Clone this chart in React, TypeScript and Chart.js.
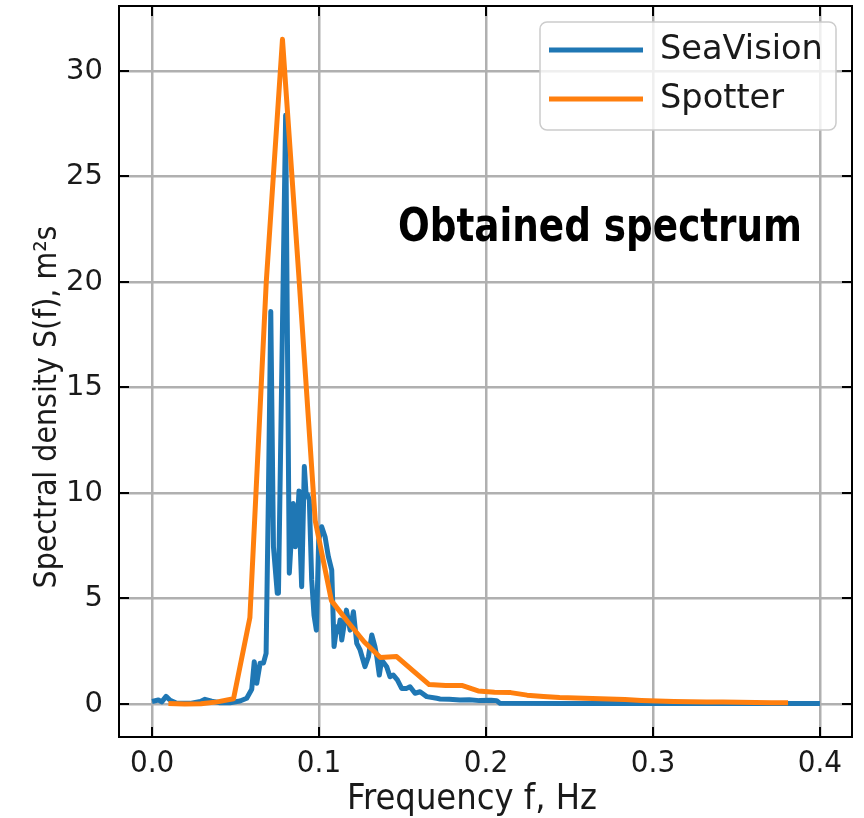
import React, { useEffect, useRef } from 'react';
import { Chart, registerables } from 'chart.js';

Chart.register(...registerables);

// ---- data ----
const X_TICKS = [0, 0.1, 0.2, 0.3, 0.4];
const Y_TICKS = [0, 5, 10, 15, 20, 25, 30];

const SEA_FREQ = [
  0.0, 0.0038, 0.0058, 0.0084, 0.0108, 0.0148, 0.0228, 0.029, 0.0317, 0.0357,
  0.0407, 0.0467, 0.0527, 0.0567, 0.0597, 0.0612, 0.0627, 0.0647, 0.0667, 0.0683,
  0.0697, 0.0711, 0.0727, 0.075, 0.0757, 0.08, 0.0822, 0.0846, 0.0858, 0.0866,
  0.088, 0.0888, 0.0896, 0.0912, 0.0922, 0.0932, 0.0942, 0.0956, 0.097, 0.0984,
  0.0998, 0.1016, 0.1036, 0.1056, 0.1076, 0.109, 0.1106, 0.1116, 0.1126, 0.1136,
  0.1164, 0.1186, 0.1206, 0.1226, 0.1246, 0.1275, 0.1296, 0.1316, 0.1335, 0.1346,
  0.1361, 0.1375, 0.1405, 0.1425, 0.1445, 0.1469, 0.1495, 0.1525, 0.1545, 0.1575,
  0.1605, 0.1645, 0.1705, 0.1725, 0.178, 0.1844, 0.19, 0.196, 0.203, 0.2064,
  0.2084, 0.25, 0.3, 0.35, 0.4,
];
const SEA_DENSITY = [
  0.12, 0.19, 0.1, 0.36, 0.18, 0.03, 0.03, 0.12, 0.22, 0.13,
  0.06, 0.06, 0.14, 0.27, 0.7, 2.0, 0.98, 1.93, 1.94, 2.4,
  10.0, 18.6, 7.45, 5.25, 5.25, 27.9, 6.2, 9.5, 7.45, 7.8,
  10.1, 7.4, 5.56, 11.25, 10.0, 9.9, 9.67, 5.88, 4.2, 3.5,
  7.77, 8.4, 7.93, 6.98, 6.35, 2.72, 3.66, 3.43, 3.98, 3.03,
  4.45, 3.5, 4.37, 2.87, 2.56, 1.77, 2.24, 3.27, 2.72, 2.24,
  1.37, 2.09, 1.77, 1.29, 1.37, 1.14, 0.74, 0.74, 0.82, 0.51,
  0.58, 0.35, 0.27, 0.24, 0.22, 0.19, 0.2, 0.16, 0.18, 0.16,
  0.03, 0.02, 0.02, 0.02, 0.02,
];

const SPOT_FREQ = [
  0.0098, 0.0195, 0.0293, 0.0391, 0.0488, 0.0586, 0.0684, 0.0781, 0.0879, 0.0977,
  0.1074, 0.1172, 0.127, 0.1367, 0.1465, 0.1562, 0.166, 0.1758, 0.1855, 0.1953,
  0.2051, 0.2148, 0.2246, 0.2344, 0.2441, 0.2539, 0.2637, 0.2734, 0.2832, 0.293,
  0.3027, 0.3125, 0.3223, 0.332, 0.3418, 0.3516, 0.3613, 0.3711, 0.3809,
];
const SPOT_DENSITY = [
  0.02, 0.0, 0.01, 0.1, 0.25, 4.1, 20.0, 31.5, 20.3, 8.7,
  4.9, 3.9, 2.95, 2.2, 2.25, 1.58, 0.92, 0.88, 0.88, 0.62,
  0.56, 0.54, 0.42, 0.36, 0.31, 0.28, 0.26, 0.24, 0.21, 0.17,
  0.14, 0.12, 0.11, 0.1, 0.09, 0.08, 0.07, 0.06, 0.06,
];

const SERIES_NAMES = ['SeaVision', 'Spotter'];
const SERIES_COLORS = ['#1f77b4', '#ff7f0e'];
const X_TITLE = 'Frequency f, Hz';
const Y_TITLE = 'Spectral density S(f), m²s';
const ANNOTATION = 'Obtained spectrum';

const measure = (ctx: CanvasRenderingContext2D, text: string, family: string, weight: string) => {
  ctx.font = `${weight} 100px ${family}`;
  return ctx.measureText(text).width;
};

export default function App() {
  const ref = useRef<HTMLCanvasElement>(null);

  useEffect(() => {
    if (!ref.current) return;

    const overlay = {
      id: 'overlay',
      afterDraw(chart: any) {
        const { ctx, chartArea } = chart;
        const { left, right, top, bottom } = chartArea;
        const xs = chart.scales.x;
        const ys = chart.scales.y;
        ctx.save();

        // legend box
        const lx = 540, ly = 22, lw = 296, lh = 108, r = 7;
        ctx.beginPath();
        ctx.moveTo(lx + r, ly);
        ctx.arcTo(lx + lw, ly, lx + lw, ly + lh, r);
        ctx.arcTo(lx + lw, ly + lh, lx, ly + lh, r);
        ctx.arcTo(lx, ly + lh, lx, ly, r);
        ctx.arcTo(lx, ly, lx + lw, ly, r);
        ctx.closePath();
        ctx.fillStyle = 'rgba(255,255,255,0.8)';
        ctx.fill();
        ctx.strokeStyle = '#cccccc';
        ctx.lineWidth = 1.5;
        ctx.stroke();

        const legFam = '"DejaVu Sans", sans-serif';
        const legSize = (100 * 163) / measure(ctx, SERIES_NAMES[0], legFam, 'normal');
        ctx.font = `normal ${legSize}px ${legFam}`;
        ctx.textBaseline = 'middle';
        ctx.textAlign = 'left';
        SERIES_NAMES.forEach((name, i) => {
          const yy = 50 + i * 49;
          ctx.strokeStyle = SERIES_COLORS[i];
          ctx.lineWidth = 5;
          ctx.lineCap = 'butt';
          ctx.beginPath();
          ctx.moveTo(549, yy);
          ctx.lineTo(643, yy);
          ctx.stroke();
          ctx.fillStyle = '#1a1a1a';
          ctx.fillText(name, 660, yy);
        });

        // annotation: tall condensed bold, squeezed to width
        const annFam = '"DejaVu Sans Condensed", "DejaVu Sans", sans-serif';
        const annSize = 46;
        const annW = (measure(ctx, ANNOTATION, annFam, 'bold') * annSize) / 100;
        ctx.save();
        ctx.translate(398, 241);
        ctx.scale(404 / annW, 1);
        ctx.font = `bold ${annSize}px ${annFam}`;
        ctx.fillStyle = '#000';
        ctx.textBaseline = 'alphabetic';
        ctx.textAlign = 'left';
        ctx.fillText(ANNOTATION, 0, 0);
        ctx.restore();

        // inward ticks
        ctx.strokeStyle = '#000';
        ctx.lineWidth = 2;
        ctx.lineCap = 'butt';
        ctx.beginPath();
        X_TICKS.forEach((v) => {
          const px = Math.round(xs.getPixelForValue(v));
          ctx.moveTo(px, bottom);
          ctx.lineTo(px, bottom - 10);
          ctx.moveTo(px, top);
          ctx.lineTo(px, top + 10);
        });
        Y_TICKS.forEach((v) => {
          const py = Math.round(ys.getPixelForValue(v));
          ctx.moveTo(left, py);
          ctx.lineTo(left + 10, py);
          ctx.moveTo(right, py);
          ctx.lineTo(right - 10, py);
        });
        ctx.stroke();

        // frame
        ctx.lineWidth = 2;
        ctx.strokeRect(left, top, right - left, bottom - top);

        // axis titles
        const titleFam = '"DejaVu Sans Condensed", "DejaVu Sans", sans-serif';
        ctx.fillStyle = '#1a1a1a';
        const xtSize = (100 * 250) / measure(ctx, X_TITLE, titleFam, 'normal');
        ctx.font = `normal ${xtSize}px ${titleFam}`;
        ctx.textAlign = 'center';
        ctx.textBaseline = 'alphabetic';
        ctx.fillText(X_TITLE, 472, 809);

        const ytSize = (100 * 363) / measure(ctx, Y_TITLE, titleFam, 'normal');
        ctx.font = `normal ${ytSize}px ${titleFam}`;
        ctx.translate(56, 407);
        ctx.rotate(-Math.PI / 2);
        ctx.fillText(Y_TITLE, 0, 0);

        ctx.restore();
      },
    };

    const chart = new Chart(ref.current, {
      type: 'line',
      data: {
        datasets: [
          {
            label: SERIES_NAMES[0],
            data: SEA_FREQ.map((f, i) => ({ x: f, y: SEA_DENSITY[i] })),
            borderColor: SERIES_COLORS[0],
            backgroundColor: SERIES_COLORS[0],
            borderWidth: 5,
            pointRadius: 0,
            tension: 0,
            borderJoinStyle: 'round',
            order: 1,
          },
          {
            label: SERIES_NAMES[1],
            data: SPOT_FREQ.map((f, i) => ({ x: f, y: SPOT_DENSITY[i] })),
            borderColor: SERIES_COLORS[1],
            backgroundColor: SERIES_COLORS[1],
            borderWidth: 5,
            pointRadius: 0,
            tension: 0,
            borderJoinStyle: 'round',
            order: 0,
          },
        ],
      },
      options: {
        animation: false,
        responsive: false,
        devicePixelRatio: 1,
        layout: { autoPadding: false, padding: { top: 6, right: 12, left: 0, bottom: 0 } },
        plugins: { legend: { display: false }, tooltip: { enabled: false } },
        scales: {
          x: {
            type: 'linear',
            min: -0.0198,
            max: 0.4192,
            afterBuildTicks: (s: any) => {
              s.ticks = X_TICKS.map((v) => ({ value: v }));
            },
            afterFit: (s: any) => {
              s.height = 81;
              s.paddingLeft = 0;
              s.paddingRight = 0;
            },
            grid: { color: '#b0b0b0', lineWidth: 2.5, drawTicks: false },
            border: { display: false },
            ticks: {
              callback: (v: any) => Number(v).toFixed(1),
              font: { family: '"DejaVu Sans Condensed", "DejaVu Sans", sans-serif', size: 31 },
              color: '#1a1a1a',
              padding: 8,
              maxRotation: 0,
              autoSkip: false,
            },
          },
          y: {
            type: 'linear',
            min: -1.564,
            max: 33.08,
            afterBuildTicks: (s: any) => {
              s.ticks = Y_TICKS.map((v) => ({ value: v }));
            },
            afterFit: (s: any) => {
              s.width = 119;
              s.paddingTop = 0;
              s.paddingBottom = 0;
            },
            grid: { color: '#b0b0b0', lineWidth: 2.5, drawTicks: false },
            border: { display: false },
            ticks: {
              callback: (v: any) => String(v),
              font: { family: '"DejaVu Sans", sans-serif', size: 29 },
              color: '#1a1a1a',
              padding: 16,
              autoSkip: false,
            },
          },
        },
      },
      plugins: [overlay],
    } as any);

    return () => chart.destroy();
  }, []);

  return (
    <div style={{ position: 'absolute', left: 0, top: 0, width: 864, height: 818, background: '#fff' }}>
      <canvas ref={ref} width={864} height={818} style={{ display: 'block', width: 864, height: 818 }} />
    </div>
  );
}
